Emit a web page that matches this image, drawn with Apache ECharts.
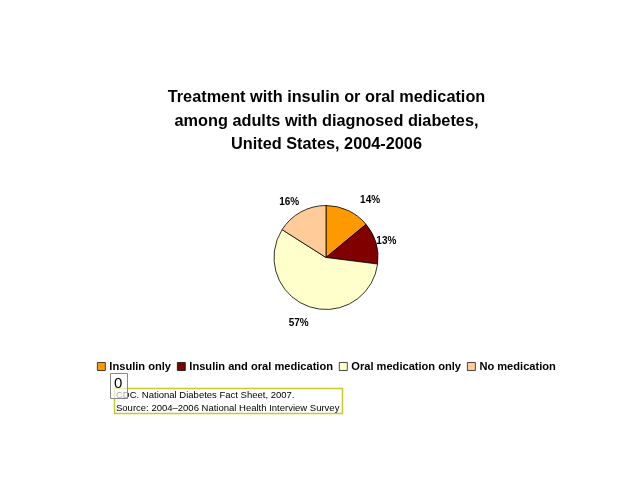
<!DOCTYPE html>
<html><head><meta charset="utf-8">
<script src="https://cdn.jsdelivr.net/npm/echarts@6/dist/echarts.min.js"></script>
<style>html,body{margin:0;padding:0;background:#fff}#c{width:640px;height:480px}</style>
</head><body><div id="c"></div>
<script>
const titleText = 'Treatment with insulin or oral medication\namong adults with diagnosed diabetes,\nUnited States, 2004-2006';
const categories = ['Insulin only', 'Insulin and oral medication', 'Oral medication only', 'No medication'];
const values = [14, 13, 57, 16];
const colors = ['#FF9900', '#800000', '#FFFFCC', '#FFCC99'];
const noteLines = ['CDC. National Diabetes Fact Sheet, 2007.', 'Source: 2004\u20132006 National Health Interview Survey'];

const font = '"Liberation Sans", Arial, sans-serif';
const labelOffsets = [[16, 2], [-3, 2], [-5, 4], [-5, 3]];
const pieData = categories.map((n, i) => ({name: n, value: values[i], itemStyle: {color: colors[i]}}));
const labelData = categories.map((n, i) => ({name: n, value: values[i], label: {offset: labelOffsets[i]}}));

const chart = echarts.init(document.getElementById('c'), null, {renderer: 'canvas'});
chart.setOption({
  animation: false,
  backgroundColor: '#fff',
  legend: {
    data: categories, left: 92, top: 356, icon: 'rect', itemWidth: 8, itemHeight: 8, itemGap: 6,
    textStyle: {fontFamily: font, fontSize: 11.1, fontWeight: 'bold', color: '#000', padding: [0, 0, 0, -1]},
    itemStyle: {borderColor: '#000', borderWidth: 0.7}
  },
  series: [
    {
      type: 'pie', center: [326, 257.5], radius: 52, startAngle: 90, clockwise: true,
      data: pieData, label: {show: false}, labelLine: {show: false},
      itemStyle: {borderColor: '#000', borderWidth: 0.8}, emphasis: {disabled: true}, silent: true
    },
    {
      type: 'pie', center: [326, 257.5], radius: [54, 72], startAngle: 90, clockwise: true,
      data: labelData, itemStyle: {color: 'rgba(0,0,0,0)'}, silent: true, emphasis: {disabled: true},
      label: {show: true, position: 'inside', formatter: p => p.value + '%',
        fontFamily: font, fontSize: 10, fontWeight: 'bold', color: '#000'},
      labelLine: {show: false}
    }
  ],
  graphic: [
    {type: 'text', x: 326.5, y: 86, style: {text: titleText, textAlign: 'center', textVerticalAlign: 'top',
      fontFamily: font, fontSize: 16.3, fontWeight: 'bold', fill: '#000', lineHeight: 23.5}},
    {type: 'rect', shape: {x: 114.5, y: 388.5, width: 228, height: 25},
      style: {fill: 'none', stroke: '#C8C832', lineWidth: 1.5}},
    {type: 'text', left: 116, top: 389, style: {text: noteLines.join('\n'), fontFamily: font, fontSize: 9.5,
      lineHeight: 13, fill: '#000'}},
    {type: 'rect', shape: {x: 110.5, y: 373.5, width: 17, height: 25},
      style: {fill: 'rgba(255,255,255,0.65)', stroke: '#888', lineWidth: 1}},
    {type: 'text', left: 114, top: 376, style: {text: '0', fontFamily: font, fontSize: 15, fill: '#000'}}
  ]
});
</script></body></html>
